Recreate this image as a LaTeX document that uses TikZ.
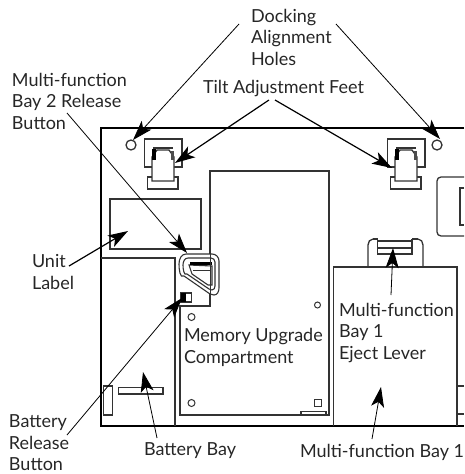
\documentclass[tikz,border=0pt]{standalone}
\usepackage{fontspec}
\setmainfont{Lato}
\usetikzlibrary{arrows.meta}
\tikzset{
  lbl/.style={inner sep=0pt,outer sep=0pt,anchor=base west,align=left,font=\fontsize{18}{21.5}\selectfont,text=black!85},
  part/.style={draw=black!80,line width=1.3pt,fill=none},
  thick part/.style={draw=black,line width=1.5pt},
  ptr/.style={draw=black,line width=0.8pt,-{Stealth[length=20pt,width=13pt,inset=5pt]}},
  heavy ptr/.style={ptr,line width=1.2pt}
}
\begin{document}
\begin{tikzpicture}[x=1pt,y=-1pt]
\useasboundingbox (0,0) rectangle (464,474);
% unit outline
\draw[thick part] (464,128) -- (101,128) -- (101,426) -- (464,426);
% docking holes
\node[part,circle,minimum size=10pt,inner sep=0pt] (hl) at (131,145) {};
\node[part,circle,minimum size=10pt,inner sep=0pt] (hr) at (437,145) {};
% feet
\foreach \dx in {0,243}{
 \begin{scope}[xshift=\dx pt]
  \draw[part] (152,167) -- (144.5,167) -- (144.5,139) -- (182,139) -- (182,167) -- (174,167);
  \draw[part] (152,177) -- (147.5,177) -- (147.5,189) -- (178,189) -- (178,177) -- (174,177);
  \draw[part,fill=white] (152,181) -- (152,157) -- (157,150) -- (169,150) -- (174,157) -- (174,181) -- cycle;
  \draw[part] (153,148) -- (173,148);
  \fill[black] (152,149) rectangle (156,160);
  \fill[black!70] (171,151) rectangle (174,160);
 \end{scope}
}
% unit label
\draw[part] (110,199) rectangle (201,249);
% battery bay
\draw[part] (101,258) -- (175,258) -- (175,426);
% memory compartment
\draw[part] (180,415) -- (180,306) -- (210,306) -- (210,171) -- (329,171) -- (329,415) -- cycle;
\draw[part] (301,415) -- (301,411.5) -- (326,411.5) -- (326,415);
\draw[part] (314.5,399.5) rectangle (321.5,406.5);
\draw[part,line width=1pt] (317.5,305) circle (3);
\draw[part,line width=1pt] (191.5,317) circle (3.5);
\draw[part,line width=1pt] (191.5,403) circle (3.5);
% release button
\draw[part,line width=1.1pt,fill=white] (186,254) -- (212,254) to[out=0,in=90] (219,261) -- (219,288) to[out=-90,in=0] (214,295) -- (210,294) -- (184,276) to[out=215,in=-90] (179,264) to[out=90,in=180] (186,254);
\draw[part,line width=1.1pt] (188,258) -- (211,258) to[out=0,in=90] (215,262) -- (215,286) to[out=-90,in=0] (212,290) -- (209,289) -- (187,274) to[out=215,in=-90] (183,265) to[out=90,in=180] (188,258);
\draw[part,line width=1.1pt] (189,265) -- (192,274) -- (208,285) -- (212,285) -- (212,266) -- cycle;
\draw[black,line width=3pt] (190,263) -- (212,263);
\draw[part,line width=1pt] (193,270) -- (211,270);
\draw[part,line width=1pt] (210,254) -- (210,306);
% battery release button
\draw[part] (181,293) rectangle (191.5,302);
\fill[black] (181,293) rectangle (185.5,302);
% batteries
\draw[part] (103.5,386) rectangle (112.5,415);
\draw[part] (118.5,387.5) rectangle (163,394);
% bay 1
\draw[part] (333.5,426) -- (333.5,267) -- (457,267) -- (457,426);
\draw[part] (368,267) -- (368,245) to[out=90,in=180] (373,239) (423,267) -- (423,245) to[out=90,in=0] (418,239);
\draw[part] (377.5,239) -- (377.5,254) -- (412,254) -- (412,239);
\draw[part] (377.5,241) -- (412,241) (377.5,248) -- (412,248);
\draw[part] (373,239) -- (377.5,239) (412,239) -- (418,239);
% right side parts
\draw[part] (464,177) -- (441,177) to[out=180,in=90] (437,181) -- (437,232) to[out=-90,in=180] (441,236) -- (464,236);
\draw[part] (464,188) -- (460,188) -- (460,225) -- (464,225);
\draw[part] (464,386) -- (457,386) (457,414) -- (464,414);
% labels
\node[lbl] (dock) at (251,65) {Docking\\Alignment\\Holes};
\node[lbl] (tilt) at (203,93) {Tilt Adjustment Feet};
\node[lbl] (bay2) at (12,129) {Multi-function\\Bay 2 Release\\Button};
\node[lbl] (unit) at (32,289) {Unit\\Label};
\node[lbl] (mem) at (184,363) {Memory Upgrade\\Compartment};
\node[lbl] (eject) at (339,359) {Multi-function\\Bay 1\\Eject Lever};
\node[lbl] (batrel) at (9,470.5) {Battery\\Release\\Button};
\node[lbl] (batbay) at (144,455) {Battery Bay};
\node[lbl] (bay1) at (300,457) {Multi-function Bay 1};
% connector ends
\coordinate (a1s) at (239,24); \coordinate (a1e) at (133,140);
\coordinate (a2s) at (336,24); \coordinate (a2e) at (440,139);
\coordinate (a3s) at (269,100); \coordinate (a3e) at (175,163);
\coordinate (a4s) at (275,100); \coordinate (a4e) at (392,168);
\coordinate (a5s) at (67,113); \coordinate (a5e) at (187,253);
\coordinate (a6s) at (69,266); \coordinate (a6e) at (128,231);
\coordinate (a7s) at (67,435); \coordinate (a7e) at (182,298);
\coordinate (a8s) at (157,438); \coordinate (a8e) at (143,372);
\coordinate (a9s) at (372,439); \coordinate (a9e) at (381,387);
\coordinate (a10s) at (391,295); \coordinate (a10e) at (393,248);
\foreach \n in {1,2,5,7,8,9,10}{\draw[ptr] (a\n s) -- (a\n e);}
\foreach \n in {3,4,6}{\draw[heavy ptr] (a\n s) -- (a\n e);}
\end{tikzpicture}
\end{document}
